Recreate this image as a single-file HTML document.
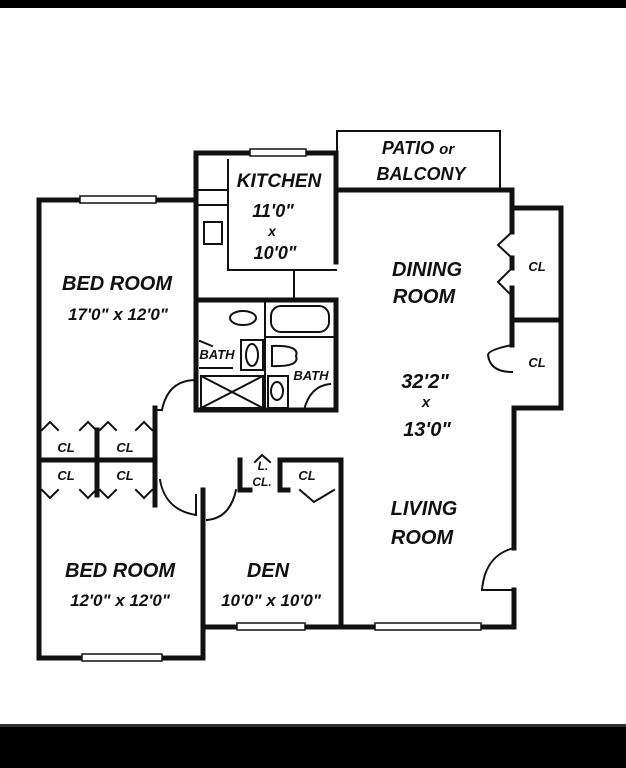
<!DOCTYPE html>
<html><head><meta charset="utf-8"><style>
html,body{margin:0;padding:0;background:#fff;}
svg{display:block}
text{font-family:"Liberation Sans",sans-serif;font-weight:bold;font-style:italic;fill:#111;text-anchor:middle}
</style></head><body>
<svg width="626" height="768" viewBox="0 0 626 768" xmlns="http://www.w3.org/2000/svg">
<rect x="0" y="0" width="626" height="8" fill="#000"/>
<rect x="0" y="726" width="626" height="42" fill="#000"/>
<rect x="0" y="724" width="626" height="3" fill="#333"/>
<g stroke="#111" fill="none" stroke-linecap="square">
<!-- patio -->
<rect x="337" y="131" width="163" height="58" stroke-width="2"/>
<!-- thick outer walls -->
<g stroke-width="5">
<path d="M39 200 H196 V153 H336 V190 H512 V208 H561 V408 H514 V548"/>
<path d="M514 590 V627 H341 M341 627 H203 V658 H39 V200"/>
<path d="M336 153 V262 M336 300 V410"/>
<path d="M196 200 V380 M196 410 V300 H336"/>
<path d="M196 410 H336"/>
<path d="M512 208 V232 M512 258 V268 M512 288 V320 M512 320 H561 M512 320 V345"/>
<path d="M155 408 V505 M39 460 H155 M97 430 V460 M97 460 V495"/>
<path d="M203 490 V658 M341 460 V627 M280 460 H341 M240 460 V488 M240 470 V490 H250 M280 460 V490 H288"/>
</g>
<!-- windows -->
<g stroke="#111" stroke-width="1.5" fill="#fff">
<rect x="80" y="196" width="76" height="7"/>
<rect x="250" y="149" width="56" height="7"/>
<rect x="82" y="654" width="80" height="7"/>
<rect x="237" y="623" width="68" height="7"/>
<rect x="375" y="623" width="106" height="7"/>
</g>
<!-- kitchen interior -->
<g stroke-width="2">
<path d="M228 160 V270 H336"/>
<path d="M196 190 H228 M196 205 H228"/>
<rect x="204" y="222" width="18" height="22"/>
<path d="M294 270 V300"/>
<path d="M265 300 V410"/>
<ellipse cx="243" cy="318" rx="13" ry="7"/>
<rect x="271" y="306" width="58" height="26" rx="10"/>
<path d="M265 337 H336"/>
<rect x="241" y="340" width="22" height="30"/>
<ellipse cx="252" cy="355" rx="6" ry="11"/>
<path d="M272 346 Q300 345 296 356 Q300 367 272 366 Z"/>
<rect x="268" y="376" width="20" height="32"/>
<ellipse cx="277" cy="391" rx="6" ry="9"/>
<path d="M201 376 H263 V408 H201 Z M201 376 L263 408 M263 376 L201 408"/>
<path d="M200 341 L212 346 M200 368 L232 368"/>
<path d="M336 410 V380 M304 410 Q310 386 330 384"/>
<!-- doors arcs -->
<path d="M196 380 Q168 380 162 410 M162 410 H155"/>
<path d="M160 480 Q165 510 196 515 V495"/>
<path d="M207 520 Q230 518 236 490"/>
<path d="M514 548 Q485 555 482 590 H514"/>
<path d="M512 345 Q488 350 488 355 Q490 372 512 372"/>
<!-- closet bifold doors -->
<path d="M512 232 L498 245 L512 258 M512 268 L498 282 L512 296"/>
<path d="M42 430 L50 422 L58 430 M80 430 L88 422 L96 430 M100 430 L108 422 L116 430 M136 430 L144 422 L152 430"/>
<path d="M42 490 L50 498 L58 490 M80 490 L88 498 L96 490 M100 490 L108 498 L116 490 M136 490 L144 498 L152 490"/>
<path d="M300 490 L314 502 L334 490"/>
<path d="M255 462 L262 455 L270 462"/>
</g>
</g>
<g>
<text x="418" y="154" font-size="18">PATIO <tspan font-size="15">or</tspan></text>
<text x="421" y="180" font-size="18">BALCONY</text>
<text x="279" y="187" font-size="19">KITCHEN</text>
<text x="273" y="217" font-size="18">11'0"</text>
<text x="272" y="236" font-size="14">x</text>
<text x="275" y="259" font-size="18">10'0"</text>
<text x="117" y="290" font-size="20">BED ROOM</text>
<text x="118" y="320" font-size="17">17'0"  x  12'0"</text>
<text x="427" y="276" font-size="20">DINING</text>
<text x="424" y="303" font-size="20">ROOM</text>
<text x="537" y="271" font-size="13">CL</text>
<text x="537" y="367" font-size="13">CL</text>
<text x="217" y="359" font-size="13">BATH</text>
<text x="311" y="380" font-size="13">BATH</text>
<text x="425" y="388" font-size="20">32'2"</text>
<text x="426" y="407" font-size="15">x</text>
<text x="427" y="436" font-size="20">13'0"</text>
<text x="66" y="452" font-size="13">CL</text>
<text x="125" y="452" font-size="13">CL</text>
<text x="66" y="480" font-size="13">CL</text>
<text x="125" y="480" font-size="13">CL</text>
<text x="263" y="470" font-size="12">L.</text>
<text x="262" y="486" font-size="12">CL.</text>
<text x="307" y="480" font-size="13">CL</text>
<text x="424" y="515" font-size="20">LIVING</text>
<text x="422" y="544" font-size="20">ROOM</text>
<text x="120" y="577" font-size="20">BED ROOM</text>
<text x="120" y="606" font-size="17">12'0"  x  12'0"</text>
<text x="268" y="577" font-size="20">DEN</text>
<text x="271" y="606" font-size="17">10'0" x 10'0"</text>
</g>
</svg>
</body></html>
